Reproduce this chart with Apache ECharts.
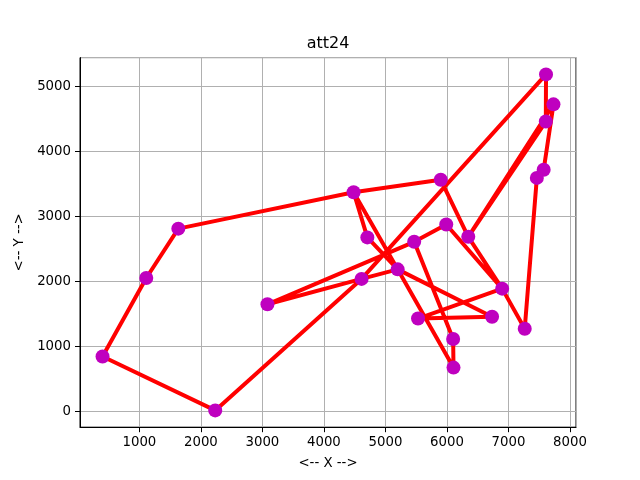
<!DOCTYPE html>
<html lang="en">
<head>
    <meta charset="UTF-8">
    <title>att24</title>
    <style>
        html, body {
            margin: 0;
            width: 100%;
            height: 100%;
            background: #ffffff;
            overflow: hidden;
        }

        #container {
            width: 640px;
            height: 480px;
        }
    </style>
</head>
<body>
<div id="container"></div>
<script src="https://cdn.jsdelivr.net/npm/echarts@6/dist/echarts.min.js"></script>
<script>
    // city coordinates, numbered 1..24
    var cityX = [6734, 2233, 5530, 401, 3082, 7608, 7573, 7265, 6898, 1112, 5468, 5989,
                 4706, 4612, 6347, 6107, 7611, 7462, 7732, 5900, 4483, 6101, 5199, 1633];
    var cityY = [1453, 10, 1424, 841, 1644, 4458, 3716, 1268, 1885, 2049, 2606, 2873,
                 2674, 2035, 2683, 669, 5184, 3590, 4723, 3561, 3369, 1110, 2182, 2809];

    // order in which the red route runs through the cities (1-based)
    var route = [11, 5, 14, 2, 4, 10, 24, 21, 20, 15, 6, 17, 14, 23, 1, 3, 9, 8, 18, 7,
                 19, 15, 9, 12, 11, 22, 16, 23, 21, 13, 23];

    var xTicks = [1000, 2000, 3000, 4000, 5000, 6000, 7000, 8000];
    var yTicks = [0, 1000, 2000, 3000, 4000, 5000];

    var points = cityX.map(function (x, i) { return [x, cityY[i]]; });
    var path = route.map(function (c) { return points[c - 1]; });

    // matplotlib style 5% margins
    function padded(arr) {
        var lo = Math.min.apply(null, arr), hi = Math.max.apply(null, arr);
        var p = (hi - lo) * 0.05;
        return [lo - p, hi + p];
    }
    var xr = padded(cityX), yr = padded(cityY);

    var font = 'DejaVu Sans';
    function tickLabel(ticks) {
        return function (v) {
            return ticks.indexOf(Math.round(v)) >= 0 && Math.abs(v - Math.round(v)) < 1e-6 ? String(Math.round(v)) : '';
        };
    }

    var myChart = echarts.init(document.getElementById('container'));
    var option = {
        backgroundColor: '#ffffff',
        animation: false,
        graphic: [{
            type: 'text',
            x: 328,
            y: 44,
            style: {
                text: 'att24',
                font: '16px "DejaVu Sans"',
                fill: '#000',
                textAlign: 'center',
                textVerticalAlign: 'middle'
            }
        }],
        grid: {
            left: 80,
            right: 64,
            top: 57.6,
            bottom: 52.8,
            show: true,
            borderColor: '#000',
            borderWidth: 1,
            backgroundColor: 'transparent'
        },
        xAxis: {
            type: 'value',
            min: xr[0],
            max: xr[1],
            splitNumber: 8,
            name: '<-- X -->',
            nameLocation: 'middle',
            nameGap: 30,
            nameTextStyle: {fontFamily: font, fontSize: 13.3, color: '#000'},
            axisLine: {show: true, onZero: false, lineStyle: {color: '#000', width: 1}},
            axisTick: {show: true, length: 5, lineStyle: {color: '#000'}},
            axisLabel: {
                fontFamily: font, fontSize: 13.3, color: '#000', margin: 9,
                showMinLabel: false, showMaxLabel: false,
                formatter: tickLabel(xTicks)
            },
            splitLine: {show: true, lineStyle: {color: '#b0b0b0', width: 1}}
        },
        yAxis: {
            type: 'value',
            min: yr[0],
            max: yr[1],
            splitNumber: 5,
            name: '<-- Y -->',
            nameLocation: 'middle',
            nameRotate: 90,
            nameGap: 49,
            nameTextStyle: {fontFamily: font, fontSize: 13.3, color: '#000'},
            axisLine: {show: true, onZero: false, lineStyle: {color: '#000', width: 1}},
            axisTick: {show: true, length: 5, lineStyle: {color: '#000'}},
            axisLabel: {
                fontFamily: font, fontSize: 13.3, color: '#000', margin: 9,
                showMinLabel: false, showMaxLabel: false,
                formatter: tickLabel(yTicks)
            },
            splitLine: {show: true, lineStyle: {color: '#b0b0b0', width: 1}}
        },
        series: [
            {
                name: 'route',
                type: 'line',
                data: path,
                showSymbol: false,
                lineStyle: {color: '#ff0000', width: 4, join: 'round'},
                z: 2
            },
            {
                name: 'cities',
                type: 'scatter',
                data: points,
                symbolSize: 14,
                itemStyle: {color: '#bf00bf', opacity: 1},
                z: 3
            }
        ]
    };

    myChart.setOption(option);
</script>
</body>
</html>
